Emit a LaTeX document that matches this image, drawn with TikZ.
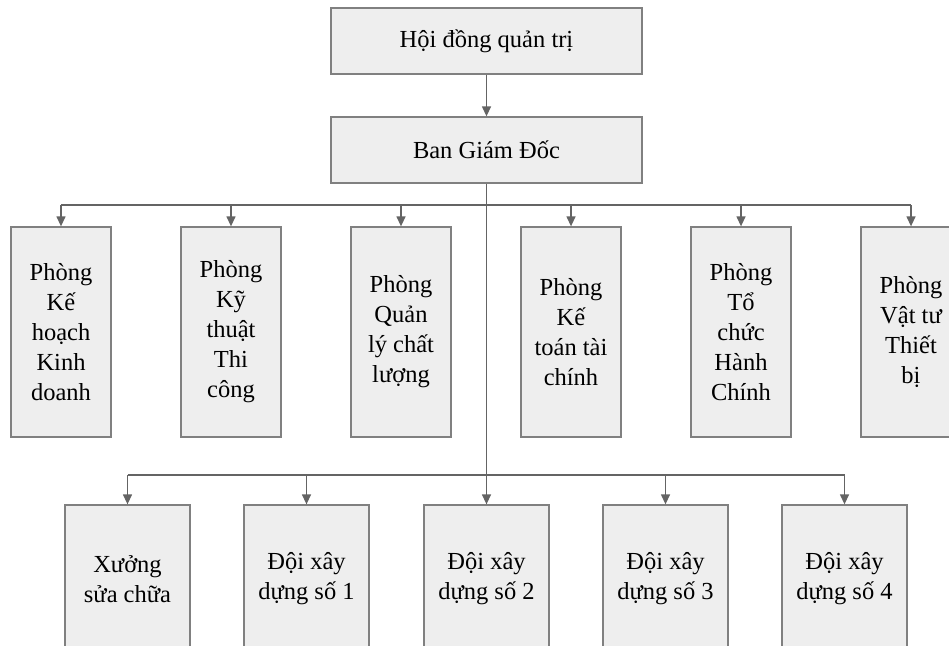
\documentclass[tikz,border=0pt]{standalone}
\usepackage{fontspec}
\setmainfont{Liberation Serif}
\usepackage{tikz}
\usetikzlibrary{arrows.meta,positioning,calc}
\definecolor{boxfill}{RGB}{238,238,238}
\definecolor{boxline}{RGB}{128,128,128}
\definecolor{linkline}{RGB}{100,100,100}

\begin{document}
\begin{tikzpicture}[x=1pt, y=-1pt,
        top/.style={rectangle, draw=boxline, line width=1.3pt, fill=boxfill, minimum width=311pt, minimum height=66pt, font=\fontsize{24.5}{30}\selectfont},
        dept/.style={rectangle, draw=boxline, line width=1.3pt, fill=boxfill, minimum width=100pt, minimum height=210pt, align=center, font=\fontsize{24.5}{30}\selectfont},
        team/.style={rectangle, draw=boxline, line width=1.3pt, fill=boxfill, minimum width=125pt, minimum height=148pt, align=center, font=\fontsize{24.5}{30}\selectfont},
        link/.style={draw=linkline, line width=1.3pt},
        arr/.style={link, -{Triangle[length=10pt, width=9pt]}}]

        \useasboundingbox (0,0) rectangle (949,645);

        \node [top] (hdqt) at (486.5,41) {Hội đồng quản trị};
        \node [top] (bgd) at (486.5,150) {Ban Giám Đốc};

        \node [dept] (khkd) at (61,332) {Phòng\\Kế\\hoạch\\Kinh\\doanh};
        \node [dept] (ktth) at (231,332) {Phòng\\Kỹ\\thuật\\Thi\\công};
        \node [dept] (qlcl) at (401,332) {Phòng\\Quản\\lý chất\\lượng};
        \node [dept] (ktoan) at (571,332) {Phòng\\Kế\\toán tài\\chính};
        \node [dept] (tchc) at (741,332) {Phòng\\Tổ\\chức\\Hành\\Chính};
        \node [dept] (vttb) at (911,332) {Phòng\\Vật tư\\Thiết\\bị};

        \node [team] (xuong) at (127.5,579) {Xưởng\\sửa chữa};
        \node [team] (doi1) at (306.5,579) {Đội xây\\dựng số 1};
        \node [team] (doi2) at (486.5,579) {Đội xây\\dựng số 2};
        \node [team] (doi3) at (665.5,579) {Đội xây\\dựng số 3};
        \node [team] (doi4) at (844.5,579) {Đội xây\\dựng số 4};

        \coordinate (bus1) at (486.5,205);
        \coordinate (bus2) at (486.5,475);

        \draw [arr] (hdqt) -- (bgd);
        \draw [arr] (bgd) -- (doi2);

        \draw [link] (khkd.north |- bus1) -- (vttb.north |- bus1);
        \draw [arr] (khkd.north |- bus1) -- (khkd);
        \draw [arr] (ktth.north |- bus1) -- (ktth);
        \draw [arr] (qlcl.north |- bus1) -- (qlcl);
        \draw [arr] (ktoan.north |- bus1) -- (ktoan);
        \draw [arr] (tchc.north |- bus1) -- (tchc);
        \draw [arr] (vttb.north |- bus1) -- (vttb);

        \draw [link] (xuong.north |- bus2) -- (doi4.north |- bus2);
        \draw [arr] (xuong.north |- bus2) -- (xuong);
        \draw [arr] (doi1.north |- bus2) -- (doi1);
        \draw [arr] (doi3.north |- bus2) -- (doi3);
        \draw [arr] (doi4.north |- bus2) -- (doi4);
    \end{tikzpicture}
\end{document}
